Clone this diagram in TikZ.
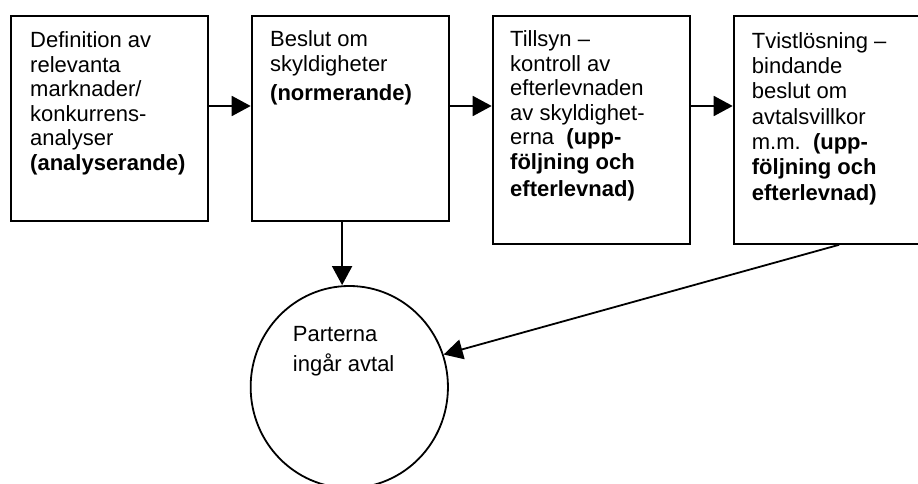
\documentclass[tikz,border=0pt]{standalone}
\usepackage{fontspec}
\setmainfont{Liberation Sans}
\usetikzlibrary{arrows.meta,shapes.geometric}
\newcommand\tst{\rule{0pt}{17pt}}
\begin{document}
\begin{tikzpicture}[x=1pt,y=-1pt,
  box/.style={draw,line width=1.8pt,minimum width=197pt,inner sep=0pt,anchor=north west},
  txt/.style={anchor=north west,inner sep=0pt,align=left,font=\fontsize{22}{24.5}\selectfont},
  arr/.style={line width=1.8pt,-{Triangle[length=19pt,width=20pt]}}]
\clip (0,0) rectangle (918,484);
\node[box,minimum height=205pt] (b1) at (10,15) {};
\node[box,minimum height=205pt] (b2) at (250.7,15) {};
\node[box,minimum height=228pt] (b3) at (491.7,15) {};
\node[box,minimum height=228pt] (b4) at (732.7,15) {};
\node[draw,ellipse,line width=1.8pt,inner sep=0pt,minimum width=197.3pt,minimum height=202pt] (el) at (349.3,387) {};

\node[txt] (t1) at (30,30.3) {\tst Definition av\\ relevanta\\ marknader/\\ konkurrens-\\ analyser\\ \textbf{(analyserande)}};
\node[txt] (t2) at (270,29) {\tst Beslut om\\[1.2pt] skyldigheter\\[3.8pt] \textbf{(normerande)}};
\node[txt] (t3) at (510,29.7) {\tst Tillsyn --\\ kontroll av\\ efterlevnaden\\ av skyldighet-\\ erna\ \ \textbf{(upp-}\\ \textbf{följning och}\\[3pt] \textbf{efterlevnad)}};
\node[txt,font=\fontsize{22}{25.3}\selectfont] (t4) at (751.7,31) {\tst Tvistlösning --\\ bindande\\ beslut om\\ avtalsvillkor\\ m.m.\ \ \textbf{(upp-}\\ \textbf{följning och}\\ \textbf{efterlevnad)}};
\node[txt] (t5) at (292.7,324.7) {\tst Parterna\\[5.5pt] ingår avtal};

\draw[arr] ([yshift=-91pt]b1.north east) -- ([yshift=-91pt]b2.north west);
\draw[arr] ([yshift=-91pt]b2.north east) -- ([yshift=-91pt]b3.north west);
\draw[arr] ([yshift=-91pt]b3.north east) -- ([yshift=-91pt]b4.north west);
\draw[arr] ([xshift=-8pt]b2.south) -- ([xshift=-8pt]b2.south |- el.north);
\draw[arr] ([xshift=7pt]b4.south) -- (el.19);
\end{tikzpicture}
\end{document}
